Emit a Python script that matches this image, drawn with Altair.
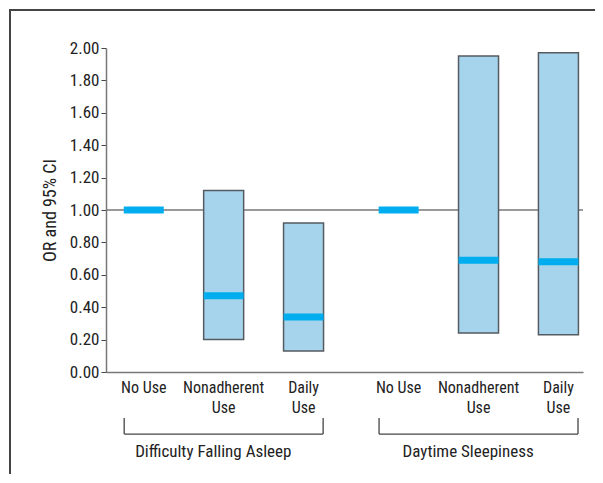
import altair as alt
import pandas as pd

groups = ["Difficulty Falling Asleep", "Daytime Sleepiness"]
categories = ["No Use", "Nonadherent\nUse", "Daily\nUse"]
or_values = [1.00, 0.47, 0.34, 1.00, 0.69, 0.68]
ci_low = [None, 0.20, 0.13, None, 0.24, 0.23]
ci_high = [None, 1.12, 0.92, None, 1.95, 1.97]
y_ticks = [0.0, 0.2, 0.4, 0.6, 0.8, 1.0, 1.2, 1.4, 1.6, 1.8, 2.0]

FONT = "Liberation Sans Narrow, Roboto Condensed, Liberation Sans, Arial"
GROUP_STEP = 3.19
HALF = 0.245

rows = []
for gi, g in enumerate(groups):
    for ci, c in enumerate(categories):
        k = gi * len(categories) + ci
        rows.append({"group": g, "cat": c, "pos": gi * GROUP_STEP + ci,
                     "or": or_values[k], "lo": ci_low[k], "hi": ci_high[k]})
df = pd.DataFrame(rows)
bars = df.dropna(subset=["lo"])

brk = df.groupby("group", sort=False)["pos"].agg(["min", "max"]).reset_index()
brk["start"] = brk["min"] - HALF
brk["end"] = brk["max"] + HALF
brk["mid"] = (brk["min"] + brk["max"]) / 2 - 0.13
brk_ends = pd.concat([
    brk[["group", "start"]].rename(columns={"start": "x"}),
    brk[["group", "end"]].rename(columns={"end": "x"}),
])

xs = alt.Scale(domain=[-0.41, 5.435], nice=False, zero=False)
ys = alt.Scale(domain=[0, 2], nice=False)

yaxis = alt.Axis(values=y_ticks, format=".2f", title="OR and 95% CI", grid=False,
                 labelOverlap=False, labelFontSize=17, tickCount=11,
                 domainColor="#777777", domainWidth=1.5, tickColor="#444444",
                 tickSize=5, labelPadding=2, titlePadding=10, titleFontSize=18)
xaxis = alt.Axis(labels=False, ticks=False, title=None, grid=False,
                 domainColor="#777777", domainWidth=1.5)

base = alt.Chart(df)

ref = alt.Chart(pd.DataFrame({"v": [1.0], "p": [0.0]})).mark_rule(
    color="#777777", strokeWidth=1.5).encode(
    y=alt.Y("v:Q", scale=ys, axis=yaxis)
)

rect = alt.Chart(bars).mark_bar(size=40, color="#a6d4ec", stroke="#555b60", strokeWidth=1.5,
                                opacity=1).encode(
    x=alt.X("pos:Q", scale=xs, axis=xaxis),
    y=alt.Y("lo:Q", scale=ys, axis=yaxis),
    y2="hi:Q",
)

marker = base.mark_tick(orient="horizontal", size=40, thickness=7, color="#00aeef",
                        opacity=1).encode(
    x=alt.X("pos:Q", scale=xs, axis=xaxis),
    y=alt.Y("or:Q", scale=ys, axis=yaxis),
)

cat_text = base.mark_text(lineBreak="\n", baseline="top", align="center", fontSize=16,
                          lineHeight=20, font=FONT, color="#222222").encode(
    x=alt.X("pos:Q", scale=xs, axis=xaxis),
    y=alt.datum(-0.049, scale=ys),
    text="cat:N",
)

brk_h = alt.Chart(brk).mark_rule(color="#444444", strokeWidth=1.3).encode(
    x=alt.X("start:Q", scale=xs, axis=xaxis), x2="end:Q", y=alt.datum(-0.383, scale=ys)
)
brk_v = alt.Chart(brk_ends).mark_rule(color="#444444", strokeWidth=1.3).encode(
    x=alt.X("x:Q", scale=xs, axis=xaxis), y=alt.datum(-0.383, scale=ys), y2=alt.datum(-0.284)
)
grp_text = alt.Chart(brk).mark_text(baseline="middle", align="center", fontSize=17,
                                    font=FONT, color="#222222").encode(
    x=alt.X("mid:Q", scale=xs, axis=xaxis), y=alt.datum(-0.494, scale=ys), text="group:N"
)

one = pd.DataFrame({"a": [0]})
frame_l = alt.Chart(one).mark_rule(color="#444444", strokeWidth=2).encode(
    x=alt.value(-96), y=alt.value(-38), y2=alt.value(440)
)
frame_t = alt.Chart(one).mark_rule(color="#444444", strokeWidth=2).encode(
    x=alt.value(-97), x2=alt.value(520), y=alt.value(-38)
)

chart = alt.layer(ref, rect, marker, cat_text, brk_h, brk_v, grp_text, frame_l, frame_t).properties(
    width=477, height=324,
    autosize=alt.AutoSizeParams(type="none"),
    padding={"left": 98, "top": 40, "right": 12, "bottom": 102},
).configure_view(stroke=None).configure_axis(
    labelFont=FONT, titleFont=FONT,
    labelColor="#222222", titleColor="#222222", titleFontWeight="normal",
)

chart.save("out.html", embed_options={"renderer": "svg", "actions": False})
